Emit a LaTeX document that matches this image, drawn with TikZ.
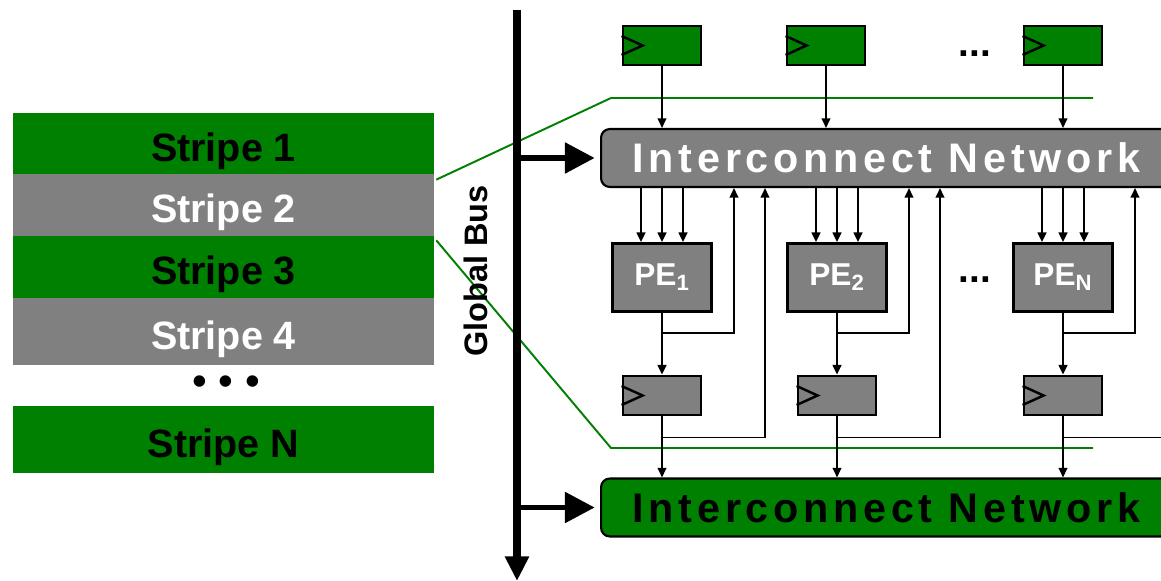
\documentclass[tikz,border=0pt]{standalone}
\usepackage{fontspec}
\setmainfont{Liberation Sans}
\newfontfamily\netfont[LetterSpace=11.5]{Liberation Sans}
\usetikzlibrary{arrows.meta,calc,positioning}
\definecolor{stripegreen}{RGB}{0,128,0}
\definecolor{stripegray}{RGB}{128,128,128}

\begin{document}
\begin{tikzpicture}[
  x=0.02cm, y=-0.02cm,
  stripe/.style={rectangle, minimum width=8.42cm, inner sep=0pt, text height=20pt, text depth=0pt, font=\fontsize{22.5}{24}\selectfont\bfseries},
  reg/.style={rectangle, draw, line width=1.6pt, minimum width=1.56cm, minimum height=0.78cm, inner sep=0pt},
  pe/.style={rectangle, draw, line width=1.6pt, fill=stripegray, minimum width=1.98cm, minimum height=1.36cm, text=white, font=\fontsize{18}{20}\selectfont\bfseries},
  net/.style={rectangle, draw, rounded corners=5pt, line width=1.2pt, minimum width=11.42cm, minimum height=1.16cm, text depth=0pt, font=\netfont\bfseries\fontsize{23.5}{25}\selectfont},
  sig/.style={-{Triangle[length=5.5pt,width=5pt]}, line width=1pt},
  busarrow/.style={-{Triangle[length=17pt,width=17pt]}, line width=3.4pt},
  zoomline/.style={stripegreen, line width=1.1pt},
  dots/.style={font=\fontsize{22}{24}\selectfont\bfseries},
]
\clip (0,0) rectangle (1161,581);
\fill[white] (0,0) rectangle (1161,581);

% Stripes on the left
\node[stripe, fill=stripegreen, minimum height=1.22cm] (s1) at (223.5,143.5) {Stripe 1};
\node[stripe, fill=stripegray, text=white, minimum height=1.24cm] (s2) at (223.5,205) {Stripe 2};
\node[stripe, fill=stripegreen, minimum height=1.24cm] (s3) at (223.5,267) {Stripe 3};
\node[stripe, fill=stripegray, text=white, minimum height=1.34cm] (s4) at (223.5,331.5) {Stripe 4};
\node[font=\fontsize{24}{26}\selectfont] (sdots) at (226,386) {\textbullet\ \textbullet\ \textbullet};
\node[stripe, fill=stripegreen, minimum height=1.34cm] (sN) at (223.5,439.5) {Stripe N};

% Zoom lines from stripe 2
\coordinate (zA) at (611,98);
\coordinate (zAend) at (1093,98);
\coordinate (zB) at (611,448);
\coordinate (zBend) at (1093,448);
\draw[zoomline] ($(s2.north east)+(2,6)$) -- (zA) -- (zAend);
\draw[zoomline] ($(s2.south east)+(2,4)$) -- (zB) -- (zBend);

% Global bus
\node[rotate=90, font=\fontsize{18.5}{20}\selectfont\bfseries] (buslabel) at (476,271) {Global Bus};
\coordinate (bustop) at (517,10);
\coordinate (busend) at (517,581);
\draw[line width=4.5pt, -{Triangle[length=14pt,width=13pt]}] (bustop) -- (busend);

% Interconnect networks
\node[net, fill=stripegray, text=white] (netA) at (886.5,158) {Interconnect Network};
\node[net, fill=stripegreen] (netB) at (886.5,507.5) {Interconnect Network};
\draw[busarrow, shorten >=3pt] (bustop |- netA.west) -- (netA.west);
\draw[busarrow, shorten >=3pt] (bustop |- netB.west) -- (netB.west);

% Registers and PEs
\foreach \i/\x in {1/662, 2/826, N/1063}
  \node[reg, fill=stripegreen] (rin\i) at (\x,45.5) {};
\foreach \i/\x in {1/662, 2/837, N/1063} {
  \node[pe] (pe\i) at (\x,277.5) {PE\textsubscript{\i}};
  \node[reg, fill=stripegray] (rout\i) at (\x,395.5) {};
}
\node[dots] (dotsA) at (975,54) {...};
\node[dots] (dotsB) at (975,280) {...};

% Clock marks
\foreach \r in {rin1,rin2,rinN,rout1,rout2,routN}
  \draw[line width=1.4pt] ($(\r.west)+(0,-9.5)$) -- ($(\r.west)+(21,0)$) -- ($(\r.west)+(0,9.5)$);

% Connections
\foreach \i in {1,2,N} {
  \draw[sig] (rin\i.south) -- (rin\i.south |- netA.north);
  \foreach \d in {-21,0,21} {
    \coordinate (t) at ($(pe\i.north)+(\d,0)$);
    \draw[sig] (t |- netA.south) -- (t);
  }
  \draw[sig] (pe\i.south) -- (rout\i.north);
  \draw[sig] (rout\i.south) -- (rout\i.south |- netB.north);
  % feedback to the upper network
  \coordinate (fbp\i) at ($(pe\i.south)+(72,20)$);
  \coordinate (fbr\i) at ($(rout\i.south)+(103,21)$);
  \draw[sig] ($(pe\i.south)+(0,20)$) -| (fbp\i |- netA.south);
  \draw[sig] ($(rout\i.south)+(0,21)$) -| (fbr\i |- netA.south);
}
\end{tikzpicture}
\end{document}
